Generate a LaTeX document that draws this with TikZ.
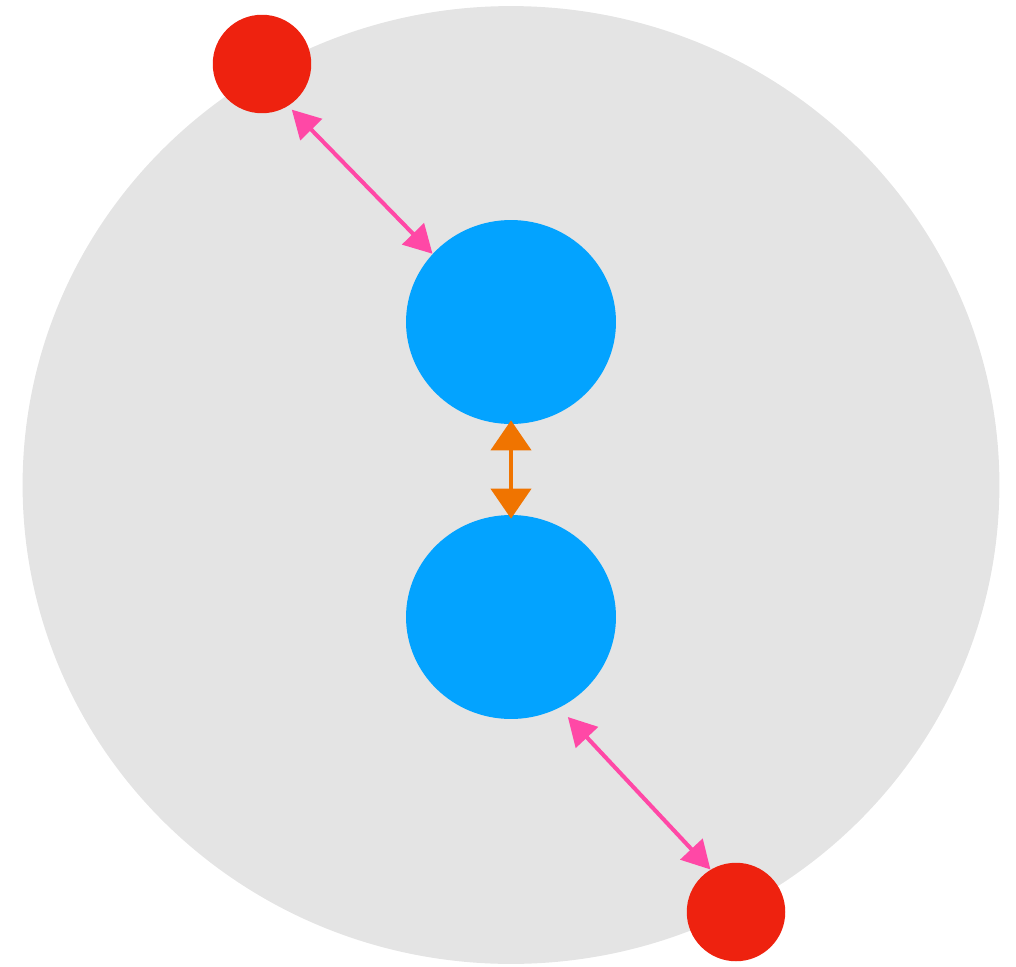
\documentclass[tikz,border=0pt]{standalone}
\usepackage{xcolor}
\definecolor{fog}{RGB}{228,228,228}
\definecolor{sky}{RGB}{3,163,255}
\definecolor{ember}{RGB}{238,34,15}
\definecolor{rose}{RGB}{255,72,166}
\definecolor{amber}{RGB}{240,116,0}
\usepackage{tikz}
\usetikzlibrary{arrows.meta,positioning,shapes.geometric}

\begin{document}
\begin{tikzpicture}[
  x=0.02cm, y=-0.02cm,
  core/.style={ellipse,fill=sky,draw=none,inner sep=0pt,
               minimum width=4.2cm, minimum height=4.08cm},
  ion/.style={circle,fill=ember,draw=none,inner sep=0pt,
              minimum size=1.97cm},
  pull/.style={rose,line width=2.3pt,
               {Triangle[length=0.56cm,width=0.6cm]}-{Triangle[length=0.56cm,width=0.6cm]}},
  bond/.style={amber,line width=2.4pt,
               {Triangle[length=0.6cm,width=0.8cm]}-{Triangle[length=0.6cm,width=0.8cm]}},
]
  \useasboundingbox (0,0) rectangle (1016,966);

  %% Shell
  \node[ellipse,fill=fog,draw=none,inner sep=0pt,
        minimum width=19.54cm, minimum height=19.16cm](S) at (511,485){};

  %% Cores
  \node[core](B1) at (511,322){};
  \node[core](B2) at (511,617){};

  %% Outer ions
  \node[ion](R1) at (262,64){};
  \node[ion](R2) at (736,912){};

  %% Links
  \draw[pull,shorten <=0.1cm] (R1.-58) -- (B1.139);
  \draw[pull,shorten <=0.25cm] (B2.-62) -- (R2.121);
  \draw[bond,shorten <=-0.08cm,shorten >=-0.08cm] (B1.south) -- (B2.north);
\end{tikzpicture}
\end{document}
